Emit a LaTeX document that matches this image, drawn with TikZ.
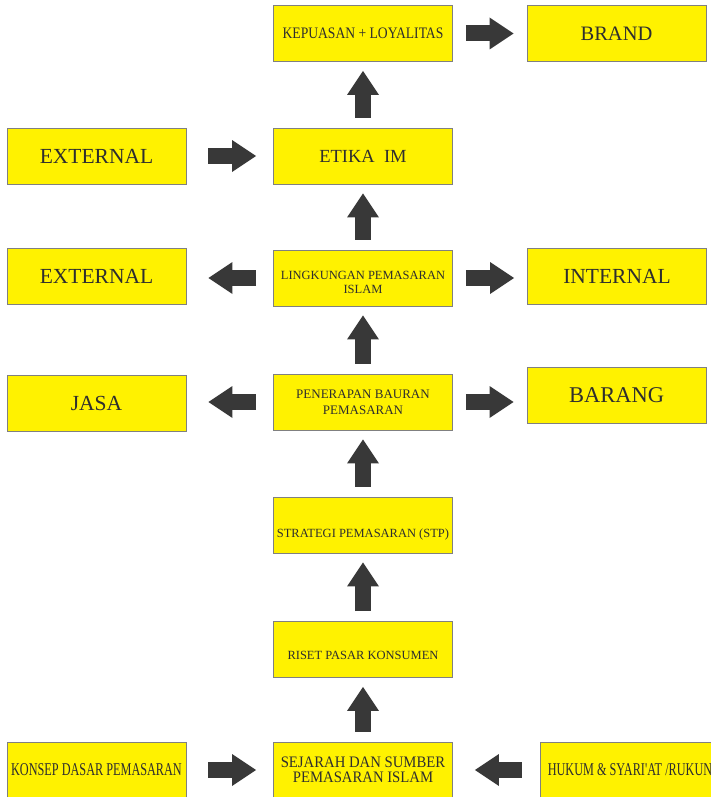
\documentclass[tikz,border=0pt]{standalone}
\usepackage{fontspec}
\setmainfont{Liberation Serif}
\newfontfamily\narrowfont[FakeStretch=0.68]{Liberation Serif}
\newfontfamily\semifont[FakeStretch=0.92]{Liberation Serif}
\newfontfamily\kepfont[FakeStretch=0.85]{Liberation Serif}
\usepackage{xcolor}
\usepackage{tikz}
\usetikzlibrary{arrows.meta}

\definecolor{boxyellow}{HTML}{FFF200}
\definecolor{boxline}{HTML}{808080}
\definecolor{arrowgray}{HTML}{383838}
\definecolor{textgray}{HTML}{2E2E2E}

\tikzset{
  box/.style={draw=boxline, fill=boxyellow, line width=0.8pt, minimum width=179pt,
    minimum height=56pt, inner sep=0pt, text=textgray, align=center},
  bigbox/.style={box, font=\fontsize{21.5}{24}\selectfont},
  smallbox/.style={box, font=\fontsize{12.5}{14}\selectfont},
  blockarrow/.style={arrowgray, line width=16pt,
    -{Triangle[length=24pt, width=32pt, line width=0pt]},
    shorten <=10pt, shorten >=9pt},
}

\begin{document}
\begin{tikzpicture}[x=1pt, y=-1pt]
  \useasboundingbox (0,0) rectangle (711,797);
  \clip (0,0) rectangle (711,797);

  \node[box, font=\kepfont\fontsize{16}{18}\selectfont] (kepuasan) at (363,33.5) {KEPUASAN + LOYALITAS};
  \node[bigbox, font=\fontsize{20.5}{24}\selectfont] (brand) at (616.5,33.5) {BRAND};
  \node[bigbox] (extA) at (96.5,156) {EXTERNAL};
  \node[box, font=\fontsize{18.5}{22}\selectfont] (etika) at (363,156) {ETIKA~~IM};
  \node[bigbox] (extB) at (96.5,276) {EXTERNAL};
  \node[smallbox] (lingk) at (363,278) {\rule{0pt}{18pt}LINGKUNGAN PEMASARAN\\ISLAM};
  \node[bigbox] (internal) at (617,276) {INTERNAL};
  \node[bigbox] (jasa) at (96.5,403) {JASA};
  \node[box, font=\fontsize{13}{16}\selectfont] (penerapan) at (363,402) {PENERAPAN BAURAN\\PEMASARAN};
  \node[bigbox, font=\fontsize{22.5}{26}\selectfont] (barang) at (616.5,395) {BARANG};
  \node[smallbox, text height=24pt, text depth=0pt] (strategi) at (363,525) {STRATEGI PEMASARAN (STP)};
  \node[smallbox, text height=19pt, text depth=0pt] (riset) at (363,649.5) {RISET PASAR KONSUMEN};
  \node[box, font=\narrowfont\fontsize{18}{20}\selectfont] (konsep) at (96.5,770) {KONSEP DASAR PEMASARAN};
  \node[box, font=\semifont\fontsize{16}{15.5}\selectfont] (sejarah) at (363,770) {SEJARAH DAN SUMBER\\PEMASARAN ISLAM};
  \node[box, minimum width=180pt, font=\narrowfont\fontsize{18}{20}\selectfont] (hukum) at (630,770) {HUKUM \& SYARI'AT /RUKUN};

  \draw[blockarrow] (sejarah.north) -- (riset.south);
  \draw[blockarrow] (riset.north) -- (strategi.south);
  \draw[blockarrow] (strategi.north) -- (penerapan.south);
  \draw[blockarrow] (penerapan.north) -- (lingk.south);
  \draw[blockarrow] (lingk.north) -- (etika.south);
  \draw[blockarrow] (etika.north) -- (kepuasan.south);

  \draw[blockarrow, shorten <=13pt, shorten >=13pt] (kepuasan.east) -- (kepuasan.east -| brand.west);
  \draw[blockarrow, shorten <=22pt, shorten >=17pt] (extA.east) -- (extA.east -| etika.west);
  \draw[blockarrow, shorten <=17pt, shorten >=22pt] (lingk.west) -- (lingk.west -| extB.east);
  \draw[blockarrow, shorten <=13pt, shorten >=13pt] (lingk.east) -- (lingk.east -| internal.west);
  \draw[blockarrow, shorten <=17pt, shorten >=22pt] (penerapan.west) -- (penerapan.west -| jasa.east);
  \draw[blockarrow, shorten <=13pt, shorten >=13pt] (penerapan.east) -- (penerapan.east -| barang.west);
  \draw[blockarrow, shorten <=22pt, shorten >=17pt] (konsep.east) -- (konsep.east -| sejarah.west);
  \draw[blockarrow, shorten <=18pt, shorten >=22pt] (hukum.west) -- (hukum.west -| sejarah.east);
\end{tikzpicture}
\end{document}
